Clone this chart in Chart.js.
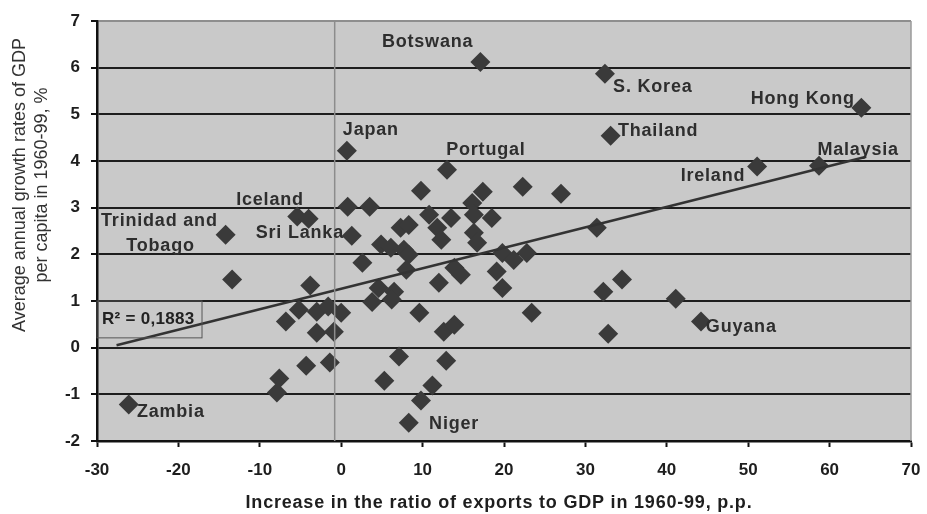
<!DOCTYPE html>
<html>
<head>
<meta charset="utf-8">
<script src="https://cdn.jsdelivr.net/npm/chart.js@4.4.1/dist/chart.umd.min.js"></script>
<style>
    html, body { margin: 0; padding: 0; background: #ffffff; }
    #wrap { width: 927px; height: 514px; }
</style>
</head>
<body>
<div id="wrap"><canvas id="myChart" width="927" height="514"></canvas></div>
<script>
// increase in exports/GDP ratio (p.p.) and annual GDP per capita growth (%)
const exportGain = [
    17.1, 32.4, 63.9, 33.1, 0.7, 13.0, 51.1, 58.7,
    9.8, 17.4, 22.3, 27.0, 0.8, 3.5, 16.1,
    -5.4, -4.0, 10.8, 13.5, 16.3, 18.5,
    7.3, 8.3, 11.8, 12.3, -14.2, 1.3, 16.3, 16.7,
    4.9, 6.1, 7.7, 8.3, 2.6, 8.0, 13.9, 14.7,
    19.8, 21.2, 22.8, 19.1, 19.8, 12.0, 4.6, 6.5,
    3.8, 9.6, 23.4, 12.6, 13.9, 7.1, 12.9,
    31.4, 34.5, 32.2, 41.1, 44.2, 32.8,
    -13.4, -3.8, -5.2, -3.0, -1.6, 0.0, -6.8, -3.0, -0.9,
    -4.3, -1.4, 6.2, -7.6, -7.9, 5.3, 11.2, 9.8, 8.3, -26.1
];
const growthRate = [
    6.12, 5.87, 5.14, 4.54, 4.22, 3.81, 3.88, 3.90,
    3.36, 3.34, 3.45, 3.30, 3.02, 3.02, 3.10,
    2.81, 2.76, 2.85, 2.78, 2.85, 2.78,
    2.57, 2.63, 2.57, 2.31, 2.42, 2.40, 2.46, 2.25,
    2.21, 2.14, 2.10, 1.99, 1.82, 1.67, 1.71, 1.56,
    2.03, 1.88, 2.03, 1.63, 1.28, 1.39, 1.28, 1.20,
    0.98, 0.75, 0.75, 0.34, 0.49, -0.19, -0.28,
    2.57, 1.46, 1.20, 1.05, 0.56, 0.30,
    1.46, 1.33, 0.81, 0.77, 0.88, 0.75, 0.56, 0.32, 0.34,
    -0.39, -0.32, 1.03, -0.66, -0.96, -0.71, -0.81, -1.13, -1.61, -1.22
];

// trend line ends
const trendX = [-27.6, 64.5];
const trendY = [0.05, 4.09];

// thin grey vertical line near zero
const refLineX = [-0.8, -0.8];
const refLineY = [-2, 7];

// country names and where they sit (data units, left edge / middle)
const countryNames = ['Botswana', 'S. Korea', 'Hong Kong', 'Thailand', 'Japan', 'Portugal',
    'Ireland', 'Malaysia', 'Iceland', 'Trinidad and', 'Tobago', 'Sri Lanka', 'Zambia', 'Niger', 'Guyana'];
const countryX = [5.0, 33.4, 50.3, 34.0, 0.2, 12.9, 41.7, 58.5, -12.9, -29.5, -26.4, -10.5, -25.1, 10.8, 44.8];
const countryY = [6.55, 5.59, 5.33, 4.65, 4.67, 4.24, 3.68, 4.24, 3.17, 2.72, 2.18, 2.46, -1.38, -1.64, 0.45];

const rSquared = 'R² = 0,1883';

const xTitle = 'Increase in the ratio of exports to GDP in 1960-99, p.p.';
const yTitle = ['Average annual growth rates of GDP', 'per capita in 1960-99, %'];

const points = exportGain.map((x, i) => ({x: x, y: growthRate[i]}));
const trend = trendX.map((x, i) => ({x: x, y: trendY[i]}));
const refLine = refLineX.map((x, i) => ({x: x, y: refLineY[i]}));

const extras = {
    id: 'extras',
    beforeDraw(chart) {
        const {ctx, chartArea: a} = chart;
        ctx.save();
        ctx.fillStyle = '#c9c9c9';
        ctx.fillRect(a.left, a.top, a.right - a.left, a.bottom - a.top);
        ctx.restore();
    },
    afterDatasetsDraw(chart) {
        const {ctx, chartArea: a, scales: {x, y}} = chart;
        ctx.save();

        // right edge of plot
        ctx.strokeStyle = '#9a9a9a';
        ctx.lineWidth = 1.5;
        ctx.beginPath();
        ctx.moveTo(a.right, a.top);
        ctx.lineTo(a.right, a.bottom);
        ctx.stroke();

        // country labels
        ctx.fillStyle = '#2e2e2e';
        ctx.font = 'bold 18px "Liberation Sans", Arial, sans-serif';
        ctx.letterSpacing = '0.8px';
        ctx.textAlign = 'left';
        ctx.textBaseline = 'middle';
        countryNames.forEach((name, i) => {
            ctx.fillText(name, x.getPixelForValue(countryX[i]), y.getPixelForValue(countryY[i]));
        });

        // R² box
        const bx0 = x.getPixelForValue(-30), bx1 = x.getPixelForValue(-17.1);
        const by0 = y.getPixelForValue(1.0), by1 = y.getPixelForValue(0.21);
        ctx.strokeStyle = '#555';
        ctx.lineWidth = 1;
        ctx.strokeRect(bx0, by0, bx1 - bx0, by1 - by0);
        ctx.fillStyle = '#222';
        ctx.font = 'bold 17px "Liberation Sans", Arial, sans-serif';
        ctx.letterSpacing = '0.3px';
        ctx.fillText(rSquared, bx0 + 5, (by0 + by1) / 2);

        // axis titles
        ctx.letterSpacing = '0.8px';
        ctx.fillStyle = '#1e1e1e';
        ctx.font = 'bold 18px "Liberation Sans", Arial, sans-serif';
        ctx.textAlign = 'center';
        ctx.fillText(xTitle, 499, 503);

        ctx.letterSpacing = '0px';
        ctx.fillStyle = '#333';
        ctx.font = '18px "Liberation Sans", Arial, sans-serif';
        ctx.translate(0, 185);
        ctx.rotate(-Math.PI / 2);
        ctx.fillText(yTitle[0], 0, 20);
        ctx.fillText(yTitle[1], 0, 42);
        ctx.restore();
    }
};

const tickFont = {family: '"Liberation Sans", Arial, sans-serif', size: 17, weight: 'bold'};

new Chart(document.getElementById('myChart'), {
    type: 'scatter',
    data: {
        datasets: [
            {
                label: 'ref',
                data: refLine,
                showLine: true,
                borderColor: '#8c8c8c',
                borderWidth: 1.5,
                pointRadius: 0
            },
            {
                label: 'trend',
                data: trend,
                showLine: true,
                borderColor: '#333333',
                borderWidth: 2.5,
                pointRadius: 0
            },
            {
                label: 'countries',
                data: points,
                pointStyle: 'rectRot',
                pointRadius: 10,
                backgroundColor: '#3a3a3a',
                borderColor: '#3a3a3a',
                borderWidth: 0
            }
        ]
    },
    options: {
        responsive: false,
        animation: false,
        layout: {
            padding: {top: 21, right: 16, left: 0, bottom: 0}
        },
        plugins: {
            legend: {display: false},
            tooltip: {enabled: false},
            title: {display: false}
        },
        scales: {
            x: {
                type: 'linear',
                min: -30,
                max: 70,
                ticks: {
                    stepSize: 10,
                    color: '#1e1e1e',
                    font: tickFont,
                    padding: 13
                },
                grid: {
                    drawOnChartArea: false,
                    drawTicks: true,
                    tickLength: 6,
                    tickColor: '#111',
                    tickWidth: 2
                },
                border: {color: '#111', width: 2.5},
                afterFit: (scale) => {
                    scale.height = 73;
                    scale.paddingLeft = 0;
                    scale.paddingRight = 0;
                }
            },
            y: {
                min: -2,
                max: 7,
                ticks: {
                    stepSize: 1,
                    color: '#1e1e1e',
                    font: tickFont,
                    padding: 11
                },
                grid: {
                    color: (c) => c.tick && c.tick.value === 7 ? '#8e8e8e' : '#1e1e1e',
                    lineWidth: 2,
                    tickLength: 6,
                    tickColor: '#111',
                    tickWidth: 2
                },
                border: {color: '#111', width: 2.5},
                afterFit: (scale) => {
                    scale.width = 97;
                    scale.paddingTop = 0;
                    scale.paddingBottom = 0;
                }
            }
        }
    },
    plugins: [extras]
});
</script>
</body>
</html>
